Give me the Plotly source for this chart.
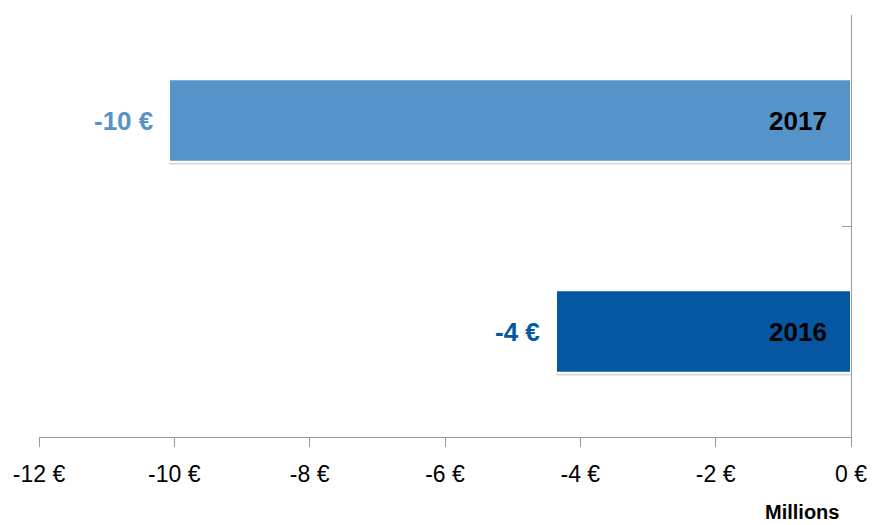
import plotly.graph_objects as go

years = ["2016", "2017"]
values = [-4.36, -10.08]
value_labels = ["-4 €", "-10 €"]
bar_colors = ["#0457a0", "#5593c8"]
x_ticks = [-12, -10, -8, -6, -4, -2, 0]
x_tick_labels = ["-12 €", "-10 €", "-8 €", "-6 €", "-4 €", "-2 €", "0 €"]

fig = go.Figure()
# soft shadow
fig.add_trace(go.Bar(
    y=years, x=values, orientation="h",
    width=0.39, offset=-0.195 - 0.014,
    marker=dict(color="rgba(0,0,0,0.15)", line=dict(width=0)),
    hoverinfo="skip", showlegend=False,
))
fig.add_trace(go.Bar(
    y=years, x=values, orientation="h",
    width=0.39, offset=-0.195,
    marker=dict(color=bar_colors, line=dict(color="white", width=2)),
    showlegend=False,
))

for i, (yr, v, lab, c) in enumerate(zip(years, values, value_labels, bar_colors)):
    fig.add_annotation(x=v, y=i, text="<b>" + lab + "</b>", showarrow=False,
                       xanchor="right", xshift=-14,
                       font=dict(family="Liberation Sans, Arial, sans-serif", size=26, color=c))
    fig.add_annotation(x=0, y=i, text="<b>" + yr + "</b>", showarrow=False,
                       xanchor="right", xshift=-22,
                       font=dict(family="Liberation Sans, Arial, sans-serif", size=26, color="black"))

fig.add_annotation(xref="paper", yref="paper", x=1, y=0, yshift=-75, xshift=-10,
                   text="<b>Millions</b>", showarrow=False, xanchor="right", yanchor="middle",
                   font=dict(family="Liberation Sans, Arial, sans-serif", size=20, color="black"))

fig.update_layout(
    width=873, height=525,
    margin=dict(l=39, r=22, t=15, b=88),
    plot_bgcolor="white", paper_bgcolor="white",
    barmode="overlay",
    xaxis=dict(range=[-12, 0], tickvals=x_ticks, ticktext=x_tick_labels, automargin=False,
               showgrid=False, zeroline=False, showline=True, linecolor="#999999", linewidth=1,
               ticks="outside", ticklen=9, tickcolor="#999999", ticklabelstandoff=7,
               tickfont=dict(family="Liberation Sans, Arial, sans-serif", size=23, color="black"),
               fixedrange=True),
    yaxis=dict(type="category", range=[-0.5, 1.5], side="right", showticklabels=False, showgrid=False,
               zeroline=False, showline=True, linecolor="#999999", linewidth=1, automargin=False,
               ticks="inside", ticklen=9, tickcolor="#999999", tickson="boundaries",
               categoryorder="array", categoryarray=years, fixedrange=True),
)

fig.write_html("out.html", post_script="document.body.style.margin='0';",
               config={"displayModeBar": False})
